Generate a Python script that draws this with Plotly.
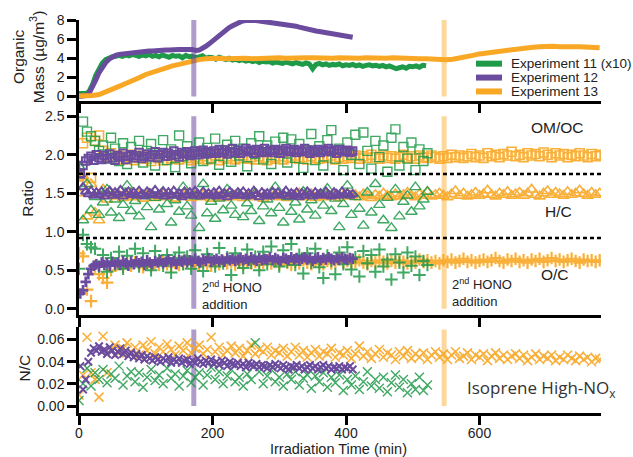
import plotly.graph_objects as go

GREEN = "#1e9a48"
PURPLE = "#6b4b9e"
ORANGE = "#f9a825"
FONT = "Liberation Sans, Arial, sans-serif"

# ---------------- Organic mass (top panel) ----------------
t_mass11 = list(range(0, 525, 5))
mass11 = [0.30, 0.35, 0.30, 0.50, 1.20, 2.20, 3.00, 3.50, 3.85, 4.05,
          4.15, 4.20, 4.30, 4.20, 4.35, 4.25, 4.40, 4.30, 4.20, 4.35,
          4.25, 4.40, 4.20, 4.30, 4.15, 4.35, 4.20, 4.10, 4.30, 4.20,
          4.25, 4.05, 4.30, 4.15, 4.20, 4.05, 4.15, 4.25, 4.00, 4.10,
          4.05, 3.90, 4.10, 3.95, 3.85, 4.00, 3.80, 3.90, 3.75, 3.85,
          3.70, 3.80, 3.65, 3.75, 3.55, 3.70, 3.60, 3.65, 3.50, 3.60,
          3.55, 3.45, 3.60, 3.50, 3.40, 3.55, 3.45, 3.35, 3.50, 3.40,
          2.90, 3.35, 3.45, 3.30, 3.40, 3.25, 3.35, 3.30, 3.40, 3.20,
          3.30, 3.25, 3.35, 3.20, 3.30, 3.15, 3.25, 3.30, 3.20, 3.25,
          3.15, 3.25, 3.10, 3.20, 3.05, 2.90, 3.00, 3.10, 2.95, 3.15,
          3.10, 3.20, 3.05, 3.25, 3.20]

t_mass12 = list(range(0, 415, 5))
mass12 = [0.00, 0.05, 0.10, 0.30, 0.90, 1.70, 2.50, 3.10, 3.55, 3.90,
          4.15, 4.30, 4.40, 4.45, 4.50, 4.55, 4.60, 4.60, 4.65, 4.70,
          4.70, 4.75, 4.75, 4.80, 4.80, 4.85, 4.85, 4.85, 4.90, 4.85,
          4.90, 4.90, 4.95, 4.90, 4.90, 4.80, 4.85, 5.00, 5.25, 5.50,
          5.80, 6.10, 6.40, 6.70, 6.95, 7.20, 7.40, 7.60, 7.75, 7.90,
          7.95, 8.00, 7.95, 7.95, 7.90, 7.90, 7.85, 7.85, 7.80, 7.75,
          7.70, 7.65, 7.55, 7.50, 7.45, 7.35, 7.25, 7.15, 7.10, 7.00,
          6.95, 6.85, 6.80, 6.75, 6.65, 6.60, 6.55, 6.50, 6.40, 6.35,
          6.30, 6.25, 6.20]

t_mass13 = list(range(0, 790, 10))
mass13 = [0.05, 0.05, 0.10, 0.20, 0.45, 0.75, 1.05, 1.35, 1.60, 1.95,
          2.30, 2.55, 2.80, 3.00, 3.20, 3.35, 3.55, 3.70, 3.85, 3.95,
          4.00, 4.00, 3.95, 4.00, 4.05, 4.00, 3.95, 4.00, 4.05, 4.00,
          4.05, 4.00, 4.05, 4.00, 4.05, 4.05, 4.00, 4.05, 4.00, 4.05,
          4.00, 4.05, 4.00, 4.05, 4.00, 3.95, 4.00, 4.05, 4.00, 3.95,
          4.00, 3.95, 3.95, 3.90, 3.85, 3.85, 3.90, 4.00, 4.15, 4.30,
          4.45, 4.55, 4.65, 4.75, 4.85, 4.95, 5.05, 5.10, 5.15, 5.20,
          5.25, 5.25, 5.20, 5.25, 5.20, 5.20, 5.15, 5.20, 5.10]

legend_names = ["Experiment 11 (x10)", "Experiment 12", "Experiment 13"]

# ---------------- Elemental ratios ----------------
t11 = list(range(0, 528, 6))
omoc11 = [1.82, 2.43, 2.30, 2.24, 2.18, 2.05, 2.12, 1.95, 2.22, 2.08,
          1.92, 2.15, 1.88, 2.10, 1.97, 2.18, 1.90, 2.05, 2.14, 1.86,
          2.02, 2.19, 1.93, 2.07, 1.84, 2.25, 1.98, 2.11, 1.89, 2.04,
          2.16, 1.92, 2.09, 1.95, 2.21, 1.87, 2.06, 2.13, 1.91, 2.18,
          1.99, 2.08, 1.85, 2.15, 2.01, 2.24, 1.94, 2.12, 1.88, 2.17,
          2.03, 2.22, 1.90, 2.20, 1.96, 2.14, 1.83, 2.06, 2.27, 1.93,
          2.11, 1.86, 2.19, 2.32, 1.95, 2.08, 1.80, 2.16, 2.00, 2.26,
          1.88, 2.29, 2.05, 1.82, 2.18, 1.97, 2.12, 1.78, 2.22, 2.33,
          1.86, 2.10, 1.95, 2.16, 1.80, 2.07, 1.92, 2.02]
hc11 = [1.85, 1.15, 1.62, 1.28, 1.45, 1.22, 1.38, 1.55, 1.25, 1.42,
        1.18, 1.35, 1.60, 1.27, 1.40, 1.20, 1.48, 1.32, 1.06, 1.44,
        1.29, 1.52, 1.36, 1.12, 1.41, 1.26, 1.58, 1.33, 1.21, 1.46,
        1.05, 1.62, 1.24, 1.39, 1.17, 1.43, 1.28, 1.55, 1.34, 1.22,
        1.47, 1.19, 1.37, 1.27, 1.50, 1.14, 1.33, 1.42, 1.24, 1.58,
        1.31, 1.12, 1.45, 1.26, 1.38, 1.16, 1.52, 1.29, 1.41, 1.21,
        1.48, 1.34, 1.56, 1.27, 1.43, 1.06, 1.36, 1.60, 1.22, 1.45,
        1.30, 1.08, 1.51, 1.25, 1.62, 1.35, 1.15, 1.44, 1.05, 1.55,
        1.20, 1.39, 1.47, 1.26, 1.58, 1.33, 1.42, 1.52]
oc11 = [0.52, 0.96, 0.84, 0.80, 0.78, 0.55, 0.70, 0.48, 0.66, 0.58,
        0.74, 0.52, 0.69, 0.61, 0.78, 0.55, 0.72, 0.60, 0.50, 0.75,
        0.63, 0.56, 0.70, 0.47, 0.66, 0.73, 0.58, 0.68, 0.52, 0.76,
        0.61, 0.49, 0.71, 0.64, 0.55, 0.79, 0.59, 0.67, 0.44, 0.72,
        0.62, 0.53, 0.77, 0.60, 0.68, 0.50, 0.74, 0.58, 0.81, 0.63,
        0.55, 0.76, 0.61, 0.84, 0.57, 0.70, 0.46, 0.72, 0.60, 0.78,
        0.54, 0.40, 0.69, 0.62, 0.45, 0.73, 0.58, 0.80, 0.51, 0.67,
        0.42, 0.75, 0.59, 0.70, 0.48, 0.77, 0.55, 0.64, 0.38, 0.71,
        0.60, 0.47, 0.73, 0.56, 0.68, 0.44, 0.62, 0.57]
nc11 = [0.005, 0.020, 0.034, 0.018, 0.030, 0.024, 0.033, 0.021, 0.029, 0.025,
        0.036, 0.019, 0.027, 0.031, 0.022, 0.030, 0.017, 0.026, 0.033, 0.023,
        0.028, 0.020, 0.034, 0.025, 0.029, 0.018, 0.027, 0.032, 0.021, 0.026,
        0.030, 0.019, 0.028, 0.035, 0.024, 0.031, 0.020, 0.027, 0.033, 0.022,
        0.026, 0.018, 0.029, 0.024, 0.057, 0.031, 0.020, 0.027, 0.033, 0.022,
        0.026, 0.018, 0.029, 0.024, 0.031, 0.019, 0.025, 0.028, 0.016, 0.027,
        0.022, 0.030, 0.017, 0.026, 0.021, 0.028, 0.014, 0.024, 0.019, 0.027,
        0.015, 0.022, 0.031, 0.018, 0.024, 0.016, 0.026, 0.013, 0.021, 0.028,
        0.017, 0.024, 0.012, 0.020, 0.015, 0.026, 0.014, 0.019]

t12 = list(range(2, 414, 4))
omoc12 = [1.75, 1.86, 1.92, 1.95, 1.98, 1.93, 2.00, 1.96, 1.94, 1.99,
          1.95, 2.01, 1.96, 1.93, 1.99, 1.97, 2.02, 1.94, 1.98, 2.00,
          1.96, 1.99, 2.03, 1.95, 1.98, 2.01, 1.97, 2.00, 2.04, 1.96,
          2.00, 2.03, 1.98, 2.02, 1.99, 2.05, 2.00, 1.97, 2.03, 2.01,
          2.04, 1.99, 2.02, 2.05, 2.00, 2.03, 2.06, 2.01, 2.04, 2.02,
          2.05, 2.02, 2.07, 2.03, 2.06, 2.01, 2.04, 2.08, 2.03, 2.06,
          2.02, 2.05, 2.08, 2.04, 2.06, 2.02, 2.07, 2.05, 2.03, 2.08,
          2.04, 2.06, 2.03, 2.07, 2.05, 2.02, 2.06, 2.08, 2.04, 2.05,
          2.07, 2.03, 2.06, 2.04, 2.08, 2.05, 2.02, 2.06, 2.04, 2.07,
          2.03, 2.06, 2.05, 2.08, 2.04, 2.06, 2.02, 2.07, 2.05, 2.04,
          2.06, 2.03, 2.05]
hc12 = [1.74, 1.58, 1.52, 1.49, 1.53, 1.47, 1.51, 1.48, 1.52, 1.46,
        1.50, 1.53, 1.47, 1.51, 1.49, 1.54, 1.46, 1.50, 1.52, 1.48,
        1.51, 1.47, 1.53, 1.49, 1.46, 1.52, 1.50, 1.48, 1.54, 1.47,
        1.49, 1.52, 1.46, 1.51, 1.48, 1.53, 1.47, 1.50, 1.45, 1.52,
        1.48, 1.51, 1.47, 1.53, 1.49, 1.46, 1.52, 1.48, 1.50, 1.47,
        1.51, 1.46, 1.53, 1.48, 1.50, 1.45, 1.52, 1.49, 1.47, 1.51,
        1.48, 1.52, 1.46, 1.50, 1.47, 1.53, 1.49, 1.45, 1.51, 1.48,
        1.50, 1.46, 1.52, 1.48, 1.51, 1.47, 1.49, 1.53, 1.46, 1.50,
        1.48, 1.51, 1.45, 1.50, 1.47, 1.52, 1.49, 1.46, 1.51, 1.48,
        1.50, 1.47, 1.52, 1.48, 1.46, 1.51, 1.49, 1.47, 1.52, 1.48,
        1.50, 1.47, 1.49]
oc12 = [0.20, 0.24, 0.35, 0.45, 0.52, 0.56, 0.58, 0.55, 0.60, 0.57,
        0.59, 0.56, 0.61, 0.58, 0.60, 0.57, 0.62, 0.59, 0.56, 0.61,
        0.58, 0.62, 0.59, 0.61, 0.57, 0.63, 0.60, 0.58, 0.62, 0.60,
        0.63, 0.59, 0.61, 0.64, 0.60, 0.62, 0.58, 0.63, 0.61, 0.64,
        0.60, 0.63, 0.61, 0.65, 0.62, 0.60, 0.64, 0.62, 0.66, 0.61,
        0.63, 0.65, 0.62, 0.64, 0.61, 0.66, 0.63, 0.65, 0.62, 0.64,
        0.66, 0.63, 0.65, 0.62, 0.67, 0.64, 0.62, 0.66, 0.63, 0.65,
        0.64, 0.67, 0.63, 0.66, 0.64, 0.62, 0.66, 0.65, 0.63, 0.67,
        0.64, 0.66, 0.63, 0.65, 0.67, 0.64, 0.66, 0.62, 0.65, 0.67,
        0.63, 0.66, 0.64, 0.67, 0.65, 0.63, 0.66, 0.64, 0.67, 0.65,
        0.64, 0.66, 0.65]
nc12 = [0.036, 0.015, 0.024, 0.040, 0.048, 0.052, 0.050, 0.054, 0.049, 0.051,
        0.047, 0.053, 0.050, 0.046, 0.049, 0.052, 0.047, 0.050, 0.045, 0.048,
        0.044, 0.047, 0.043, 0.046, 0.042, 0.045, 0.043, 0.041, 0.044, 0.042,
        0.040, 0.043, 0.041, 0.044, 0.039, 0.042, 0.040, 0.043, 0.039, 0.041,
        0.042, 0.038, 0.041, 0.039, 0.043, 0.040, 0.038, 0.041, 0.039, 0.042,
        0.038, 0.040, 0.037, 0.041, 0.039, 0.036, 0.040, 0.038, 0.037, 0.039,
        0.036, 0.038, 0.035, 0.039, 0.037, 0.036, 0.038, 0.035, 0.037, 0.036,
        0.034, 0.037, 0.035, 0.038, 0.036, 0.034, 0.037, 0.035, 0.033, 0.036,
        0.035, 0.037, 0.034, 0.036, 0.033, 0.035, 0.037, 0.034, 0.036, 0.033,
        0.035, 0.037, 0.034, 0.036, 0.033, 0.035, 0.034, 0.036, 0.033, 0.035,
        0.034, 0.036, 0.033]

t13 = list(range(0, 786, 6))
omoc13 = [1.72, 2.15, 2.22, 1.70, 2.18, 2.25, 2.05, 1.98, 2.02, 1.95,
          1.99, 1.94, 1.97, 2.00, 1.93, 1.96, 1.99, 1.95, 1.92, 1.98,
          1.96, 1.93, 1.99, 1.95, 1.97, 1.94, 1.98, 1.96, 1.93, 1.97,
          1.95, 1.98, 1.94, 1.96, 1.99, 1.93, 1.97, 1.95, 1.98, 1.94,
          1.96, 1.99, 1.95, 1.97, 1.94, 1.98, 1.96, 1.93, 1.97, 1.95,
          1.98, 1.94, 1.97, 1.96, 1.99, 1.95, 1.97, 1.94, 1.98, 1.96,
          1.95, 1.98, 1.96, 1.99, 1.94, 1.97, 1.95, 1.98, 1.96, 1.99,
          1.95, 1.98, 1.96, 2.00, 1.97, 1.95, 1.99, 1.96, 1.98, 1.95,
          1.97, 2.00, 1.96, 1.98, 1.95, 1.99, 1.97, 1.96, 1.99, 1.97,
          1.95, 1.98, 1.96, 2.00, 1.97, 1.99, 1.96, 1.98, 2.01, 1.97,
          1.99, 1.96, 2.02, 1.98, 2.00, 1.97, 2.01, 1.99, 2.04, 1.98,
          2.00, 1.97, 2.02, 1.99, 2.01, 1.98, 2.03, 2.00, 1.97, 2.02,
          1.99, 2.01, 1.97, 2.00, 1.98, 2.02, 1.99, 1.97, 2.01, 1.98,
          2.00]
hc13 = [1.50, 1.72, 1.20, 1.62, 1.25, 1.15, 1.55, 1.42, 1.50, 1.46,
        1.48, 1.44, 1.47, 1.50, 1.45, 1.48, 1.43, 1.47, 1.49, 1.44,
        1.46, 1.49, 1.45, 1.47, 1.43, 1.48, 1.46, 1.50, 1.44, 1.47,
        1.45, 1.48, 1.46, 1.43, 1.49, 1.46, 1.44, 1.48, 1.45, 1.47,
        1.49, 1.44, 1.47, 1.45, 1.50, 1.46, 1.43, 1.48, 1.46, 1.49,
        1.45, 1.47, 1.44, 1.48, 1.46, 1.50, 1.45, 1.47, 1.49, 1.44,
        1.47, 1.45, 1.49, 1.46, 1.48, 1.44, 1.47, 1.50, 1.46, 1.48,
        1.45, 1.49, 1.47, 1.44, 1.48, 1.46, 1.50, 1.47, 1.45, 1.49,
        1.46, 1.48, 1.51, 1.47, 1.45, 1.49, 1.47, 1.52, 1.46, 1.48,
        1.50, 1.47, 1.45, 1.49, 1.53, 1.47, 1.50, 1.46, 1.48, 1.51,
        1.47, 1.49, 1.54, 1.48, 1.46, 1.50, 1.48, 1.52, 1.47, 1.49,
        1.51, 1.47, 1.50, 1.55, 1.48, 1.46, 1.50, 1.53, 1.48, 1.51,
        1.49, 1.47, 1.52, 1.48, 1.50, 1.54, 1.49, 1.47, 1.51, 1.48,
        1.50]
oc13 = [0.72, 0.68, 0.25, 0.10, 0.55, 0.45, 0.40, 0.34, 0.50, 0.56,
        0.58, 0.55, 0.59, 0.56, 0.60, 0.57, 0.54, 0.59, 0.56, 0.60,
        0.57, 0.61, 0.58, 0.55, 0.60, 0.57, 0.59, 0.62, 0.58, 0.60,
        0.57, 0.61, 0.59, 0.56, 0.60, 0.58, 0.62, 0.59, 0.61, 0.57,
        0.60, 0.58, 0.62, 0.59, 0.61, 0.57, 0.60, 0.63, 0.59, 0.61,
        0.58, 0.62, 0.60, 0.57, 0.61, 0.59, 0.63, 0.60, 0.58, 0.62,
        0.60, 0.58, 0.62, 0.59, 0.61, 0.64, 0.60, 0.62, 0.59, 0.61,
        0.63, 0.60, 0.58, 0.62, 0.60, 0.63, 0.61, 0.59, 0.62, 0.60,
        0.63, 0.61, 0.59, 0.62, 0.60, 0.64, 0.61, 0.63, 0.60, 0.62,
        0.59, 0.63, 0.61, 0.64, 0.60, 0.62, 0.65, 0.61, 0.63, 0.60,
        0.62, 0.64, 0.61, 0.63, 0.66, 0.62, 0.60, 0.64, 0.62, 0.65,
        0.61, 0.63, 0.60, 0.64, 0.62, 0.65, 0.61, 0.63, 0.66, 0.62,
        0.64, 0.61, 0.63, 0.65, 0.62, 0.60, 0.64, 0.62, 0.63, 0.61,
        0.63]
nc13 = [0.010, 0.028, 0.062, 0.030, 0.024, 0.008, 0.063, 0.030, 0.050, 0.055,
        0.048, 0.052, 0.057, 0.049, 0.053, 0.046, 0.055, 0.050, 0.058, 0.047,
        0.053, 0.049, 0.056, 0.051, 0.046, 0.054, 0.050, 0.057, 0.048, 0.052,
        0.055, 0.047, 0.051, 0.062, 0.049, 0.053, 0.046, 0.050, 0.054, 0.048,
        0.052, 0.045, 0.050, 0.055, 0.047, 0.051, 0.049, 0.053, 0.046, 0.050,
        0.048, 0.052, 0.045, 0.049, 0.053, 0.046, 0.050, 0.044, 0.048, 0.051,
        0.045, 0.049, 0.047, 0.052, 0.044, 0.048, 0.046, 0.050, 0.043, 0.047,
        0.054, 0.045, 0.049, 0.043, 0.047, 0.051, 0.044, 0.048, 0.046, 0.042,
        0.049, 0.045, 0.050, 0.043, 0.047, 0.044, 0.048, 0.042, 0.046, 0.049,
        0.044, 0.047, 0.042, 0.046, 0.049, 0.043, 0.045, 0.048, 0.042, 0.046,
        0.044, 0.047, 0.041, 0.045, 0.048, 0.043, 0.046, 0.042, 0.045, 0.047,
        0.043, 0.046, 0.041, 0.044, 0.047, 0.042, 0.045, 0.043, 0.046, 0.041,
        0.044, 0.042, 0.046, 0.043, 0.041, 0.045, 0.042, 0.044, 0.040, 0.043,
        0.042]

hono_times = [172, 547]          # 2nd HONO additions (Exp 12, Exp 13)
separators = [1.75, 0.92]        # dotted separators in ratio panel
x_ticks = [0, 200, 400, 600]
XR = [0, 782]

fig = go.Figure()

# top panel lines
for t, m, c, name in [(t_mass11, mass11, GREEN, legend_names[0]),
                      (t_mass12, mass12, PURPLE, legend_names[1]),
                      (t_mass13, mass13, ORANGE, legend_names[2])]:
    fig.add_trace(go.Scatter(x=t, y=m, mode="lines", name=name, showlegend=False,
                             line=dict(color=c, width=5),
                             xaxis="x", yaxis="y", hoverinfo="skip"))

def pts(t, v, color, symbol, size, lw, ax, yax, op=0.9):
    return go.Scatter(x=t, y=v, mode="markers", showlegend=False,
                      xaxis=ax, yaxis=yax, hoverinfo="skip", opacity=op,
                      marker=dict(symbol=symbol, size=size, color=color,
                                  line=dict(color=color, width=lw)))

# ratio panels: draw orange, then green, then purple on top
series = [
    (t13, omoc13, hc13, oc13, nc13, ORANGE, 9, 1.6, 0.9),
    (t11, omoc11, hc11, oc11, nc11, GREEN, 9, 1.4, 0.85),
    (t12, omoc12, hc12, oc12, nc12, PURPLE, 7.5, 2.0, 1.0),
]
for t, omoc, hc, oc, nc, c, s, lw, op in series:
    fig.add_trace(pts(t, omoc, c, "square-open", s, lw, "x2", "y2", op))
    fig.add_trace(pts(t, hc, c, "triangle-up-open", s + 1, lw, "x2", "y2", op))
    fig.add_trace(pts(t, oc, c, "cross-thin-open", s, lw + 0.6, "x2", "y2", op))
for t, omoc, hc, oc, nc, c, s, lw, op in series:
    fig.add_trace(pts(t, nc, c, "x-thin-open", s, lw, "x3", "y3", op))

shapes = []
hono_cols = ["rgba(107,75,158,0.55)", "rgba(249,168,37,0.45)"]
for xv, col in zip(hono_times, hono_cols):
    shapes.append(dict(type="line", xref="x", yref="y", x0=xv, x1=xv, y0=0, y1=8,
                       line=dict(color=col, width=5), layer="above"))
    shapes.append(dict(type="line", xref="x2", yref="y2", x0=xv, x1=xv, y0=0, y1=2.5,
                       line=dict(color=col, width=5), layer="below"))
    shapes.append(dict(type="line", xref="x3", yref="y3", x0=xv, x1=xv, y0=0, y1=0.069,
                       line=dict(color=col, width=5), layer="below"))
for yv in separators:
    shapes.append(dict(type="line", xref="x2", yref="y2", x0=XR[0], x1=XR[1], y0=yv, y1=yv,
                       line=dict(color="black", width=2.5, dash="4px,3px"), layer="above"))

# legend (drawn as swatches + labels, as in the original figure)
leg_rows = [0.8889, 0.8535, 0.8182]
annots = []
for name, c, yy in zip(legend_names, [GREEN, PURPLE, ORANGE], leg_rows):
    shapes.append(dict(type="line", xref="paper", yref="paper", x0=0.7605, x1=0.8103,
                       y0=yy, y1=yy, line=dict(color=c, width=6), layer="above"))
    annots.append(dict(text=name, x=0.8238, y=yy, xref="paper", yref="paper",
                       xanchor="left", yanchor="middle", showarrow=False,
                       font=dict(family=FONT, size=13.5, color="#222")))

ax_common = dict(showline=True, linecolor="black", linewidth=2.5, ticks="outside",
                 ticklen=9, tickwidth=2.5, tickcolor="black", showgrid=False,
                 zeroline=False, tickfont=dict(family=FONT, size=14, color="#222"))

lab = [
    dict(text="OM/OC", x=674, y=2.35, xref="x2", yref="y2", xanchor="left"),
    dict(text="H/C", x=695, y=1.263, xref="x2", yref="y2", xanchor="left"),
    dict(text="O/C", x=689, y=0.45, xref="x2", yref="y2", xanchor="left"),
]
for a in lab:
    a.update(showarrow=False, yanchor="middle", font=dict(family=FONT, size=15.5, color="#222"))
annots += lab
for xv, yv in [(hono_times[0] + 9, 0.41), (hono_times[1] + 9, 0.45)]:
    annots.append(dict(text="2<sup>nd</sup> HONO<br>addition", x=xv, y=yv, xref="x2", yref="y2",
                       xanchor="left", yanchor="top", align="left", showarrow=False,
                       font=dict(family=FONT, size=13, color="#222")))
annots.append(dict(text="Isoprene High-NO<sub>x</sub>", x=578, y=0.016, xref="x3", yref="y3",
                   xanchor="left", yanchor="middle", showarrow=False,
                   font=dict(family="Open Sans", size=17, color="#333")))
title_font = dict(family=FONT, size=15.5, color="#222")
annots += [
    dict(text="Organic<br>Mass (µg/m<sup>3</sup>)", x=-0.098, y=0.905, xref="paper", yref="paper",
         textangle=-90, showarrow=False, font=title_font, xanchor="center", yanchor="middle"),
    dict(text="Ratio", x=-0.098, y=0.545, xref="paper", yref="paper",
         textangle=-90, showarrow=False, font=title_font, xanchor="center", yanchor="middle"),
    dict(text="N/C", x=-0.105, y=0.114, xref="paper", yref="paper",
         textangle=-90, showarrow=False, font=title_font, xanchor="center", yanchor="middle"),
    dict(text="Irradiation Time (min)", x=0.498, y=-0.0915, xref="paper", yref="paper",
         showarrow=False, font=dict(family=FONT, size=14.5, color="#222"),
         xanchor="center", yanchor="middle", borderpad=0),
]

fig.update_layout(
    width=633, height=457,
    margin=dict(l=79, r=32, t=17, b=44),
    paper_bgcolor="white", plot_bgcolor="white",
    font=dict(family=FONT, color="#222"),
    showlegend=False,
    xaxis=dict(ax_common, domain=[0, 1], range=XR, autorange=False, anchor="y",
               tickvals=x_ticks, showticklabels=False),
    xaxis2=dict(ax_common, domain=[0, 1], range=XR, autorange=False, anchor="y2",
                tickvals=x_ticks, showticklabels=False),
    xaxis3=dict(ax_common, domain=[0, 1], range=XR, autorange=False, anchor="y3",
                tickvals=x_ticks, ticklabelstandoff=-4),
    yaxis=dict(ax_common, domain=[0.7929, 1.0], range=[-0.52, 8.0], autorange=False,
               anchor="x", tickvals=[0, 2, 4, 6, 8]),
    yaxis2=dict(ax_common, domain=[0.25, 0.7929], range=[-0.077, 2.693], autorange=False,
                anchor="x2", tickvals=[0, 0.5, 1.0, 1.5, 2.0, 2.5],
                ticktext=["0.0", "0.5", "1.0", "1.5", "2.0", "2.5"]),
    yaxis3=dict(ax_common, domain=[0.0, 0.2197], range=[-0.00627, 0.0716], autorange=False,
                anchor="x3", tickvals=[0, 0.02, 0.04, 0.06],
                ticktext=["0.00", "0.02", "0.04", "0.06"]),
    shapes=shapes,
    annotations=annots,
)

fig.write_html("out.html")
